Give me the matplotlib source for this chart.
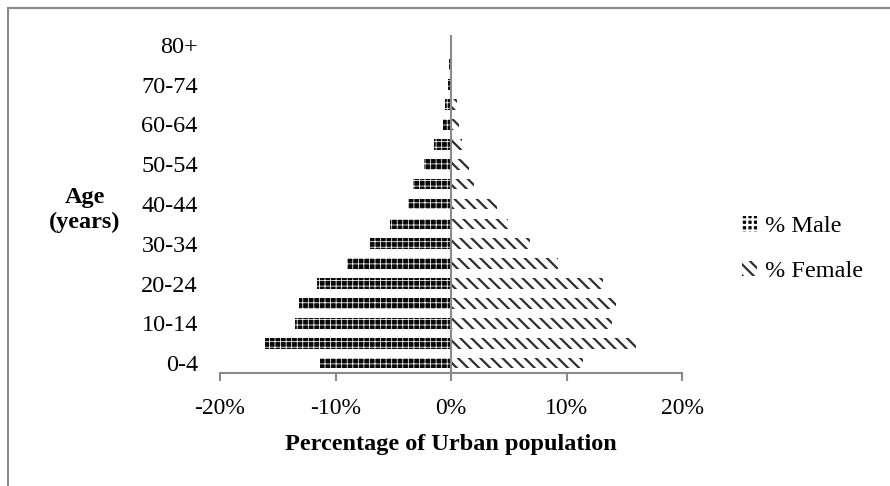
import matplotlib
matplotlib.use("Agg")
import matplotlib.pyplot as plt
from matplotlib.patches import Rectangle
from matplotlib.ticker import FuncFormatter, FixedLocator

plt.rcParams['font.family'] = ['Liberation Serif', 'DejaVu Serif']

age_groups = ["0-4", "5-9", "10-14", "15-19", "20-24", "25-29", "30-34", "35-39",
              "40-44", "45-49", "50-54", "55-59", "60-64", "65-69", "70-74", "75-79", "80+"]
male_pct = [-11.3, -16.1, -13.5, -13.2, -11.6, -9.0, -7.0, -5.3,
            -3.7, -3.3, -2.3, -1.45, -0.7, -0.5, -0.3, -0.15, -0.05]
female_pct = [11.4, 16.0, 13.9, 14.3, 13.2, 9.3, 6.8, 4.9,
              3.95, 2.0, 1.6, 0.95, 0.66, 0.48, 0.1, 0.05, 0.05]
x_ticks = [-20, -10, 0, 10, 20]

W, H = 890, 486
fig = plt.figure(figsize=(W / 100, H / 100), dpi=100)
ax = fig.add_axes([220 / W, 1 - 373 / H, (682 - 220) / W, (373 - 35) / H])

ypos = list(range(len(age_groups)))
bar_h = 0.54

MALE_HATCH_LW = 0.55
FEMALE_HATCH_LW = 1.6

plt.rcParams['hatch.linewidth'] = MALE_HATCH_LW
male_bars = ax.barh(ypos, male_pct, height=bar_h, facecolor='#0a0a0a',
                    edgecolor='white', hatch='+++', linewidth=0, label='% Male')
plt.rcParams['hatch.linewidth'] = FEMALE_HATCH_LW
female_bars = ax.barh(ypos, female_pct, height=bar_h, facecolor='white',
                      edgecolor='#2e2e2e', hatch='\\\\\\', linewidth=0, label='% Female')

for b in male_bars:
    if hasattr(b, 'set_hatch_linewidth'):
        b.set_hatch_linewidth(MALE_HATCH_LW)
for b in female_bars:
    if hasattr(b, 'set_hatch_linewidth'):
        b.set_hatch_linewidth(FEMALE_HATCH_LW)

ax.set_xlim(-20, 20)
ax.set_ylim(-0.5, len(age_groups) - 0.5)

# vertical axis line at 0%
ax.axvline(0, color='#8a8a8a', linewidth=1.5, zorder=3)

for s in ['top', 'right', 'left']:
    ax.spines[s].set_visible(False)
ax.spines['bottom'].set_color('#8a8a8a')
ax.spines['bottom'].set_linewidth(1.5)

ax.xaxis.set_major_locator(FixedLocator(x_ticks))
ax.xaxis.set_major_formatter(FuncFormatter(lambda v, p: f"{int(v)}%"))
ax.tick_params(axis='x', direction='out', length=6, width=1.5, color='#8a8a8a',
               labelsize=17, pad=12)

shown = ypos[::2]
ax.set_yticks(shown)
ax.set_yticklabels([age_groups[i] for i in shown])
ax.tick_params(axis='y', length=0, labelsize=17.5, pad=16)

ax.set_xlabel("Percentage of Urban population", fontsize=17.5, fontweight='bold', labelpad=11)
fig.text(85 / W, 1 - 210 / H, "Age\n(years)", ha='center', va='center',
         fontsize=17.5, fontweight='bold', linespacing=1.2)

fig.legend([male_bars, female_bars], ['% Male', '% Female'], loc='center left',
           bbox_to_anchor=(742 / W, 1 - 249 / H), frameon=False, fontsize=17.5,
           handlelength=0.6, handleheight=0.6, handletextpad=0.35, labelspacing=0.95,
           borderaxespad=0, borderpad=0)

# outer chart frame
fig.patches.append(Rectangle((7.5 / W, -0.5), 2.0, 1.5 - 8 / H, transform=fig.transFigure,
                             fill=False, edgecolor='#8a8a8a', linewidth=1.5))

fig.savefig("out.png", dpi=100, facecolor='white')
